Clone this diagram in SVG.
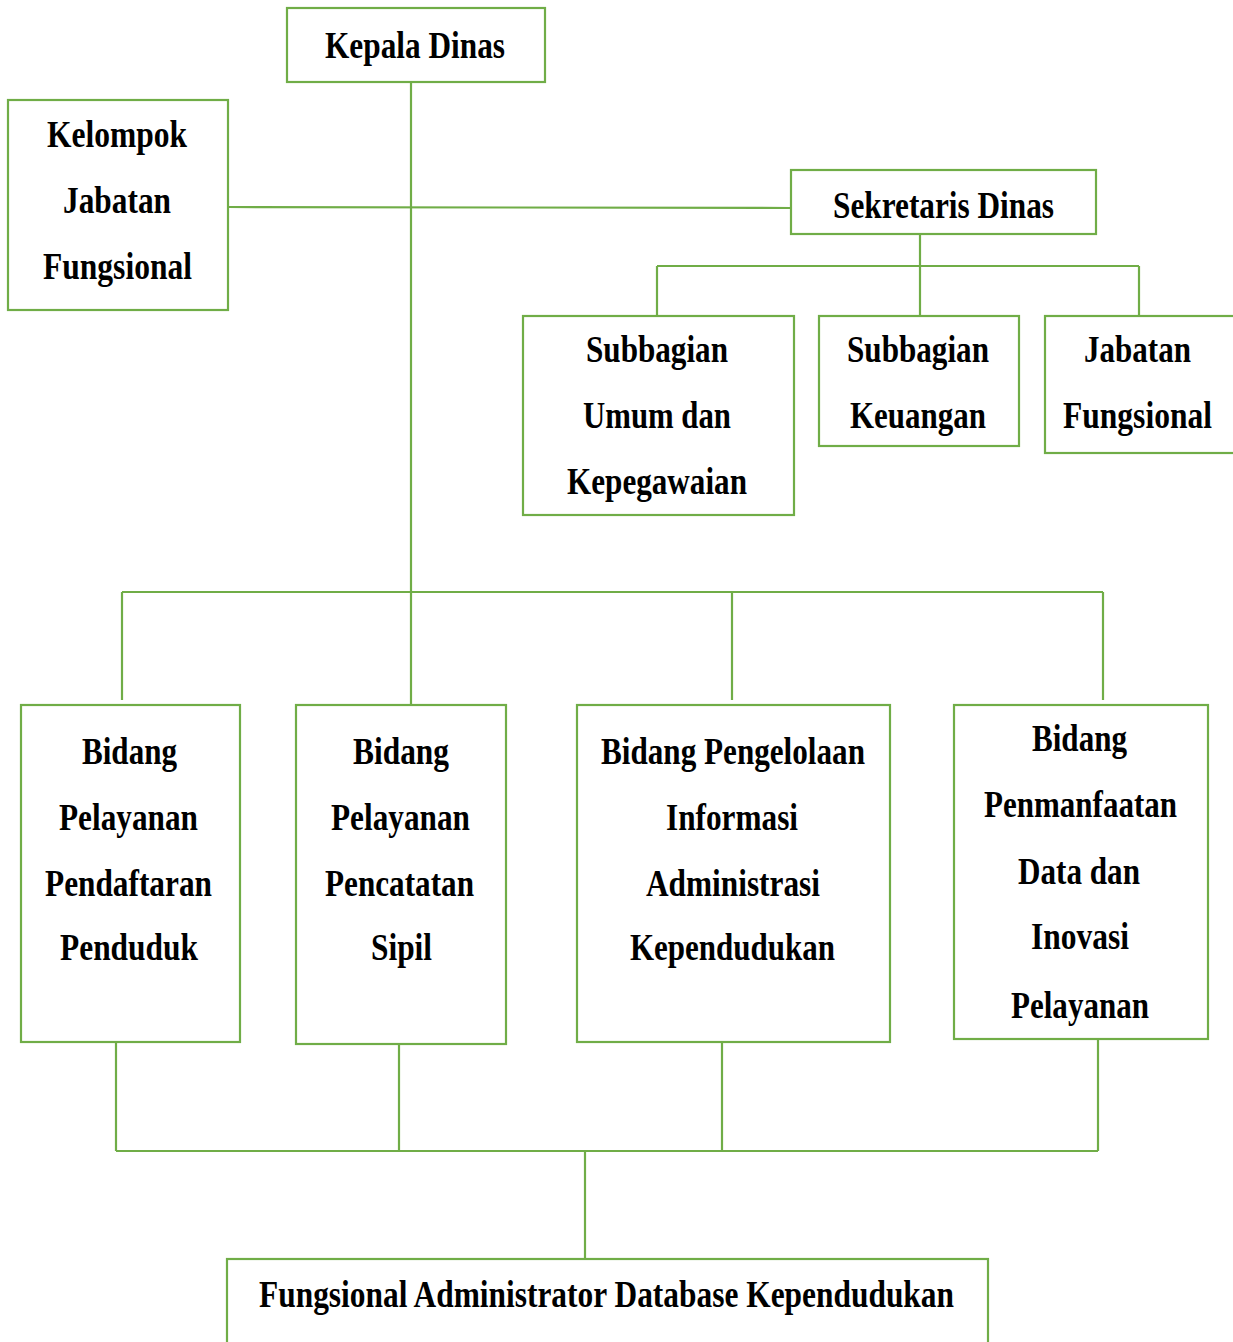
<svg xmlns="http://www.w3.org/2000/svg" width="1233" height="1342" viewBox="0 0 1233 1342">
<style>
.box{fill:#ffffff;stroke:#70AD47;stroke-width:2.2}
.ln{fill:none;stroke:#70AD47;stroke-width:2.2}
text{font-family:"Liberation Serif","Times New Roman",serif;font-weight:bold;font-size:37px;fill:#000000}
</style>
<rect width="1233" height="1342" fill="#ffffff"/>
<g id="connectors">
<line class="ln" x1="411" y1="82" x2="411" y2="705"/>
<line class="ln" x1="228" y1="207" x2="791" y2="208"/>
<line class="ln" x1="920" y1="234" x2="920" y2="316"/>
<line class="ln" x1="657" y1="266" x2="1139" y2="266"/>
<line class="ln" x1="657" y1="266" x2="657" y2="316"/>
<line class="ln" x1="1139" y1="266" x2="1139" y2="316"/>
<line class="ln" x1="122" y1="592" x2="1103" y2="592"/>
<line class="ln" x1="122" y1="592" x2="122" y2="700"/>
<line class="ln" x1="732" y1="592" x2="732" y2="700"/>
<line class="ln" x1="1103" y1="592" x2="1103" y2="700"/>
<line class="ln" x1="116" y1="1042" x2="116" y2="1151"/>
<line class="ln" x1="399" y1="1044" x2="399" y2="1151"/>
<line class="ln" x1="722" y1="1040" x2="722" y2="1151"/>
<line class="ln" x1="1098" y1="1039" x2="1098" y2="1151"/>
<line class="ln" x1="116" y1="1151" x2="1098" y2="1151"/>
<line class="ln" x1="585" y1="1151" x2="585" y2="1259"/>
</g>
<g id="kepala-dinas">
<rect class="box" x="287" y="8" width="258" height="74"/>
<text x="325" y="58" textLength="180" lengthAdjust="spacingAndGlyphs">Kepala Dinas</text>
</g>
<g id="kelompok-jabatan-fungsional">
<rect class="box" x="8" y="100" width="220" height="210"/>
<text x="47" y="147" textLength="140" lengthAdjust="spacingAndGlyphs">Kelompok</text>
<text x="63" y="213" textLength="108" lengthAdjust="spacingAndGlyphs">Jabatan</text>
<text x="43" y="279" textLength="149" lengthAdjust="spacingAndGlyphs">Fungsional</text>
</g>
<g id="sekretaris-dinas">
<rect class="box" x="791" y="170" width="305" height="64"/>
<text x="833" y="218" textLength="221" lengthAdjust="spacingAndGlyphs">Sekretaris Dinas</text>
</g>
<g id="subbagian-umum">
<rect class="box" x="523" y="316" width="271" height="199"/>
<text x="586" y="362" textLength="142" lengthAdjust="spacingAndGlyphs">Subbagian</text>
<text x="583" y="428" textLength="148" lengthAdjust="spacingAndGlyphs">Umum dan</text>
<text x="567" y="494" textLength="180" lengthAdjust="spacingAndGlyphs">Kepegawaian</text>
</g>
<g id="subbagian-keuangan">
<rect class="box" x="819" y="316" width="200" height="130"/>
<text x="847" y="362" textLength="142" lengthAdjust="spacingAndGlyphs">Subbagian</text>
<text x="850" y="428" textLength="136" lengthAdjust="spacingAndGlyphs">Keuangan</text>
</g>
<g id="jabatan-fungsional">
<rect class="box" x="1045" y="316" width="200" height="137"/>
<text x="1084" y="362" textLength="107" lengthAdjust="spacingAndGlyphs">Jabatan</text>
<text x="1063" y="428" textLength="149" lengthAdjust="spacingAndGlyphs">Fungsional</text>
</g>
<g id="bidang-pendaftaran">
<rect class="box" x="21" y="705" width="219" height="337"/>
<text x="82" y="764" textLength="95" lengthAdjust="spacingAndGlyphs">Bidang</text>
<text x="59" y="830" textLength="139" lengthAdjust="spacingAndGlyphs">Pelayanan</text>
<text x="45" y="896" textLength="167" lengthAdjust="spacingAndGlyphs">Pendaftaran</text>
<text x="60" y="960" textLength="138" lengthAdjust="spacingAndGlyphs">Penduduk</text>
</g>
<g id="bidang-pencatatan">
<rect class="box" x="296" y="705" width="210" height="339"/>
<text x="353" y="764" textLength="96" lengthAdjust="spacingAndGlyphs">Bidang</text>
<text x="331" y="830" textLength="139" lengthAdjust="spacingAndGlyphs">Pelayanan</text>
<text x="325" y="896" textLength="149" lengthAdjust="spacingAndGlyphs">Pencatatan</text>
<text x="371" y="960" textLength="61" lengthAdjust="spacingAndGlyphs">Sipil</text>
</g>
<g id="bidang-pengelolaan">
<rect class="box" x="577" y="705" width="313" height="337"/>
<text x="601" y="764" textLength="264" lengthAdjust="spacingAndGlyphs">Bidang Pengelolaan</text>
<text x="666" y="830" textLength="132" lengthAdjust="spacingAndGlyphs">Informasi</text>
<text x="646" y="896" textLength="174" lengthAdjust="spacingAndGlyphs">Administrasi</text>
<text x="630" y="960" textLength="205" lengthAdjust="spacingAndGlyphs">Kependudukan</text>
</g>
<g id="bidang-pemanfaatan">
<rect class="box" x="954" y="705" width="254" height="334"/>
<text x="1032" y="751" textLength="95" lengthAdjust="spacingAndGlyphs">Bidang</text>
<text x="984" y="817" textLength="193" lengthAdjust="spacingAndGlyphs">Penmanfaatan</text>
<text x="1018" y="884" textLength="122" lengthAdjust="spacingAndGlyphs">Data dan</text>
<text x="1031" y="949" textLength="98" lengthAdjust="spacingAndGlyphs">Inovasi</text>
<text x="1011" y="1018" textLength="138" lengthAdjust="spacingAndGlyphs">Pelayanan</text>
</g>
<g id="fungsional-administrator">
<rect class="box" x="227" y="1259" width="761" height="110"/>
<text x="259" y="1307" textLength="695" lengthAdjust="spacingAndGlyphs">Fungsional Administrator Database Kependudukan</text>
</g>
</svg>
